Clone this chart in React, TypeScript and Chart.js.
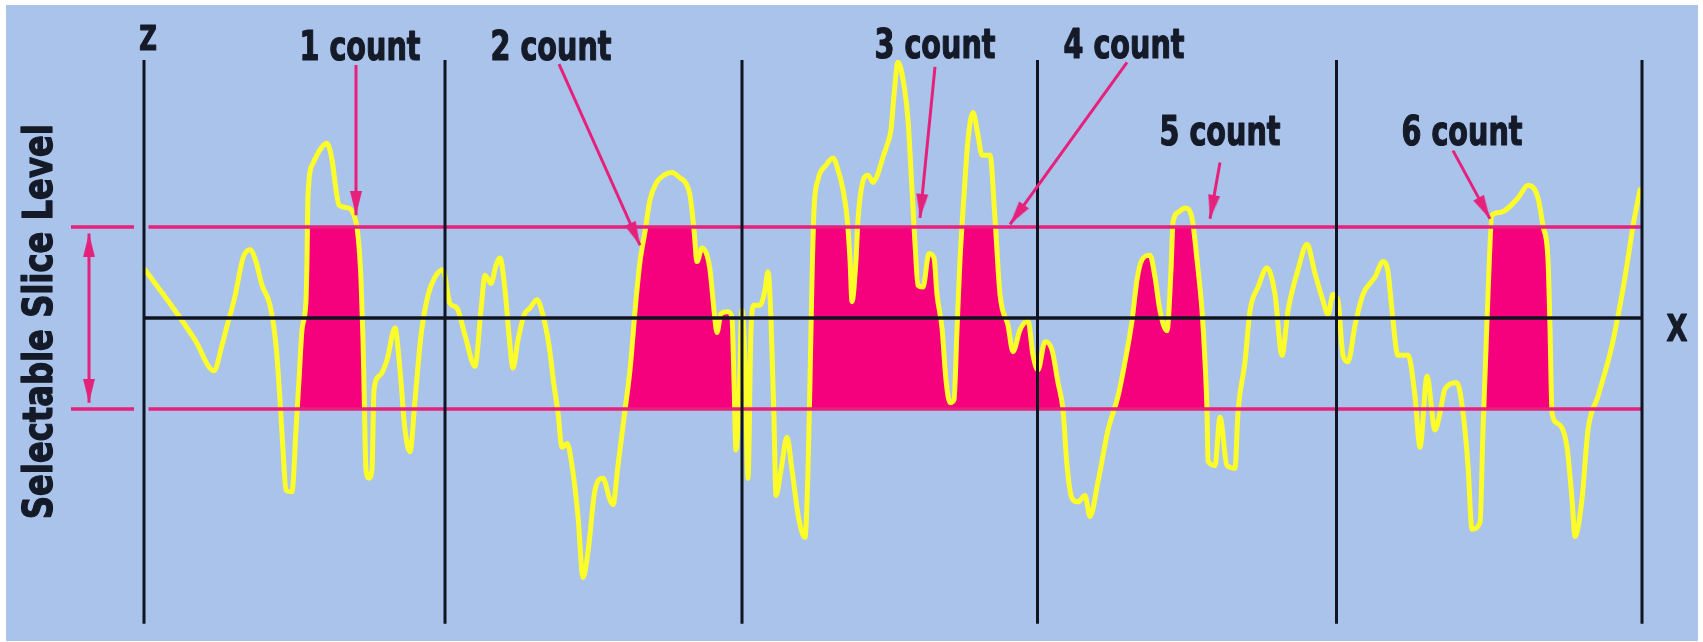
import React, { useEffect, useRef } from 'react';
import { Chart, registerables } from 'chart.js';

Chart.register(...registerables);

// Surface profile along the trace: position (x) and height relative to the mean line (y)
const profileX = [
  1, 26, 51, 70, 78, 82, 91, 99, 106, 112,
  118, 126, 132, 136, 139, 142, 148, 152, 155, 158,
  162, 163, 164, 169, 176, 183, 188, 192, 195, 204,
  210, 214, 217, 219, 220, 222, 225, 228, 230, 236,
  243, 251, 256, 261, 266, 271, 277, 284, 291, 299,
  306, 313, 321, 331, 337, 341, 347, 352, 356, 361,
  365, 369, 374, 380, 386, 393, 399, 405, 410, 414,
  418, 423, 428, 434, 439, 444, 451, 459, 466, 469,
  474, 481, 486, 492, 496, 501, 506, 512, 520, 528,
  536, 542, 546, 550, 553, 558, 563, 566, 570, 573,
  577, 584, 588, 590, 592, 595, 598, 601, 604, 607,
  610, 616, 621, 624, 627, 630, 632, 637, 643, 648,
  655, 661, 664, 666, 668, 670, 674, 682, 689, 694,
  699, 703, 706, 708, 712, 714, 718, 724, 729, 733,
  739, 743, 747, 750, 754, 760, 764, 768, 771, 774,
  779, 785, 790, 793, 798, 802, 806, 810, 813, 816,
  820, 824, 829, 834, 838, 846, 851, 856, 864, 869,
  876, 884, 889, 894, 901, 908, 914, 919, 923, 928,
  934, 941, 946, 954, 964, 974, 981, 988, 993, 998,
  1006, 1011, 1016, 1023, 1027, 1029, 1034, 1041, 1048, 1053,
  1058, 1061, 1063, 1064, 1071, 1076, 1083, 1091, 1094, 1101,
  1106, 1114, 1123, 1131, 1138, 1144, 1154, 1163, 1171, 1179,
  1184, 1189, 1194, 1199, 1204, 1211, 1219, 1231, 1239, 1244,
  1248, 1254, 1264, 1271, 1276, 1283, 1291, 1296, 1301, 1313,
  1319, 1324, 1328, 1336, 1339, 1344, 1348, 1356, 1374, 1384,
  1394, 1399, 1404, 1406, 1408, 1414, 1423, 1428, 1431, 1438,
  1444, 1454, 1468, 1481, 1489, 1496,
];

const profileY = [
  5.3, 1.6, -2.4, -5.8, -3.0, -1.3, 2.4, 6.6, 7.5, 6.2,
  3.6, 1.4, -3.0, -9.0, -14.5, -18.9, -19.1, -12.3, -6.8, -1.3,
  2.0, 6.4, 13.5, 17.0, 18.5, 19.2, 17.4, 14.1, 12.4, 12.1,
  11.3, 9.1, 4.2, -2.4, -7.4, -16.7, -17.6, -16.7, -7.9, -6.3,
  -4.6, -1.1, -5.7, -12.3, -14.7, -9.0, -1.9, 2.5, 4.5, 5.3,
  1.6, 1.1, -1.9, -5.3, 0.9, 4.7, 3.8, 5.8, 6.6, 3.1,
  -1.9, -5.5, -2.4, 0.3, 1.1, 2.0, 0.3, -3.0, -7.4, -10.4,
  -14.2, -13.8, -16.2, -21.8, -28.5, -25.7, -18.9, -17.6, -20.0, -20.5,
  -16.2, -10.1, -5.7, 2.0, 6.2, 9.5, 13.0, 14.8, 15.7, 16.0,
  15.4, 14.8, 13.5, 9.7, 6.2, 7.7, 6.9, 5.3, 0.9, -1.6,
  0.5, 0.7, 0.0, -6.8, -14.5, -9.0, 0.9, -4.6, -17.6, -1.3,
  1.4, 1.4, 3.1, 5.1, -0.2, -11.2, -19.5, -16.7, -13.1, -16.7,
  -22.2, -24.1, -16.7, -6.8, 4.2, 11.9, 15.2, 16.8, 17.6, 16.3,
  14.1, 11.1, 6.4, 1.8, 6.4, 10.8, 14.6, 15.7, 14.9, 15.6,
  17.7, 19.0, 20.7, 24.5, 28.1, 25.6, 21.8, 14.1, 8.2, 3.6,
  3.4, 7.1, 6.6, 2.6, -1.1, -6.8, -9.3, -9.0, -1.3, 6.4,
  13.5, 19.6, 22.6, 20.1, 17.9, 17.9, 10.9, 2.6, -0.8, -3.7,
  -1.3, -0.3, -4.1, -5.7, -2.6, -3.5, -7.1, -10.1, -16.2, -19.8,
  -20.2, -19.5, -21.8, -18.0, -12.3, -8.6, -4.8, -0.3, 4.2, 6.4,
  6.9, 4.5, 0.8, -1.4, 5.3, 10.5, 11.6, 12.1, 11.0, 6.4,
  0.8, -4.8, -10.1, -15.7, -16.2, -10.9, -16.2, -16.5, -10.4, -4.8,
  0.8, 3.4, 5.5, 2.6, -4.1, 0.8, 5.3, 8.1, 4.9, 1.9,
  0.4, 2.6, 1.9, -4.1, -4.8, -0.8, 2.6, 4.5, 6.2, 5.1,
  0.8, -4.1, -4.1, -8.6, -14.2, -6.4, -12.3, -10.4, -7.8, -7.1,
  -10.4, -16.2, -23.2, -22.5, -12.3, 2.6, 11.3, 11.6, 13.2, 14.6,
  13.2, 10.1, 6.4, -1.1, -10.4, -11.6, -14.2, -19.9, -24.0, -19.9,
  -12.3, -8.6, -3.0, 4.5, 10.1, 14.1,
];

// Upper and lower slice levels
const sliceLevels = [10, -10];
const upperSlice = 10;
const lowerSlice = -10;

// Section boundaries along the trace (vertical rules)
const sectionX = [0, 301, 598, 893.5, 1192.5, 1498];
const sectionTop = 28.35;
const sectionBottom = -33.6;

// Stretches of the trace where a peak crosses both slice levels
const countRangeStart = [148, 474, 661, 964, 1339];
const countRangeEnd = [222, 592, 923, 1064, 1414];

// Peak count callouts
const countLabels = ['1 count', '2 count', '3 count', '4 count', '5 count', '6 count'];
const labelX = [216, 407, 791, 980, 1076, 1318];
const labelY = [28.4, 28.4, 28.6, 28.6, 19.0, 19.0];
const arrowFromX = [212, 415, 791, 983, 1076, 1309];
const arrowFromY = [27.8, 27.9, 27.6, 28.1, 17.1, 18.4];
const arrowToX = [212, 496, 776, 866, 1066, 1346];
const arrowToY = [11.3, 8.0, 11.0, 10.3, 10.9, 10.9];

// Slice-level span marker and its stubs on the left
const levelArrowX = -55;
const levelArrowTop = 9.3;
const levelArrowBottom = -9.3;
const levelStubX = [-73, -10];
const levelLineX = [4.5, 1498];

// Axis names
const zAxisName = 'Z';
const zAxisPos = [4, 29.5];
const xAxisName = 'X';
const xAxisPos = [1533, -2.5];
const levelName = 'Selectable Slice Level';
const levelNamePos = [-92, -0.4];

// Value window for the whole drawing surface
const X_MIN = -144;
const X_MAX = 1559;
const Y_MIN = -35.6;
const Y_MAX = 34.95;

const BG_BLUE = '#aac3eb';
const FILL_PINK = '#f5007d';
const LINE_PINK = '#e5217b';
const YELLOW = '#fcfc2a';
const INK = '#0f1420';
const TEXT = '#141a28';
const FONT_FAMILY = '"Liberation Sans Narrow", "DejaVu Sans Condensed", "Liberation Sans", sans-serif';
const LABEL_SIZE = 40;
const LABEL_WIDTH = 121; // printed width of a "n count" callout
const LEVEL_NAME_LENGTH = 395;

function makeArrowHead(color: string): HTMLCanvasElement {
  const len = 24;
  const half = 6;
  const c = document.createElement('canvas');
  c.width = half * 2 + 2;
  c.height = len * 2;
  const g = c.getContext('2d')!;
  g.fillStyle = color;
  g.beginPath();
  g.moveTo(c.width / 2, len);
  g.lineTo(c.width / 2 + half, len * 2);
  g.lineTo(c.width / 2 - half, len * 2);
  g.closePath();
  g.fill();
  return c;
}

// Rotate the arrow head so it points away from the other end of its shaft
function headRotation(ctx: any): number {
  const chart = ctx.chart;
  const data = chart.data.datasets[ctx.datasetIndex].data as { x: number; y: number }[];
  const i = ctx.dataIndex;
  const p = data[i];
  const o = data[1 - i];
  if (!p || !o) return 0;
  const xs = chart.scales.x;
  const ys = chart.scales.y;
  const dx = xs.getPixelForValue(p.x) - xs.getPixelForValue(o.x);
  const dy = ys.getPixelForValue(p.y) - ys.getPixelForValue(o.y);
  return (Math.atan2(dx, -dy) * 180) / Math.PI;
}

const backdrop = {
  id: 'backdrop',
  beforeDraw(chart: any) {
    const { ctx, width, height } = chart;
    ctx.save();
    ctx.fillStyle = '#ffffff';
    ctx.fillRect(0, 0, width, height);
    ctx.fillStyle = BG_BLUE;
    ctx.fillRect(6, 5, width - 11, height - 6);
    ctx.restore();
  },
};

// Condensed bold lettering: squeeze the bold face horizontally to the printed width
function drawSqueezed(ctx: CanvasRenderingContext2D, text: string, x: number, y: number, squeeze: number, angle = 0) {
  ctx.save();
  ctx.translate(x, y);
  if (angle) ctx.rotate(angle);
  ctx.scale(squeeze, 1);
  ctx.fillText(text, 0, 0);
  ctx.strokeText(text, 0, 0);
  ctx.restore();
}

const captions = {
  id: 'captions',
  afterDatasetsDraw(chart: any) {
    const ctx: CanvasRenderingContext2D = chart.ctx;
    const xs = chart.scales.x;
    const ys = chart.scales.y;
    ctx.save();
    ctx.fillStyle = TEXT;
    ctx.strokeStyle = TEXT;
    ctx.lineWidth = 1.2;
    ctx.lineJoin = 'round';
    ctx.textAlign = 'center';
    ctx.textBaseline = 'alphabetic';
    ctx.font = `bold ${LABEL_SIZE}px ${FONT_FAMILY}`;
    const squeeze = LABEL_WIDTH / ctx.measureText(countLabels[0]).width;
    countLabels.forEach((t, i) => {
      drawSqueezed(ctx, t, xs.getPixelForValue(labelX[i]), ys.getPixelForValue(labelY[i]), squeeze);
    });
    ctx.font = `bold 34px ${FONT_FAMILY}`;
    drawSqueezed(ctx, zAxisName, xs.getPixelForValue(zAxisPos[0]), ys.getPixelForValue(zAxisPos[1]), squeeze);
    ctx.font = `bold 38px ${FONT_FAMILY}`;
    drawSqueezed(ctx, xAxisName, xs.getPixelForValue(xAxisPos[0]), ys.getPixelForValue(xAxisPos[1]), squeeze);
    ctx.font = `bold ${LABEL_SIZE}px ${FONT_FAMILY}`;
    const levelSqueeze = LEVEL_NAME_LENGTH / ctx.measureText(levelName).width;
    drawSqueezed(
      ctx,
      levelName,
      xs.getPixelForValue(levelNamePos[0]),
      ys.getPixelForValue(levelNamePos[1]),
      levelSqueeze,
      -Math.PI / 2,
    );
    ctx.restore();
  },
};

function buildDatasets(head: HTMLCanvasElement) {
  const datasets: any[] = [];

  // Callout arrows
  arrowFromX.forEach((fx, i) => {
    datasets.push({
      data: [
        { x: fx, y: arrowFromY[i] },
        { x: arrowToX[i], y: arrowToY[i] },
      ],
      borderColor: LINE_PINK,
      borderWidth: 3,
      pointRadius: [0, 40],
      pointStyle: head,
      rotation: headRotation,
      pointBorderWidth: 0,
      order: 0,
    });
  });
  datasets.push({
    data: [
      { x: levelArrowX, y: levelArrowTop },
      { x: levelArrowX, y: levelArrowBottom },
    ],
    borderColor: LINE_PINK,
    borderWidth: 3,
    pointRadius: [40, 40],
    pointStyle: head,
    rotation: headRotation,
    pointBorderWidth: 0,
    order: 0,
  });

  // Mean line and section rules
  datasets.push({
    data: [
      { x: sectionX[0], y: 0 },
      { x: sectionX[sectionX.length - 1], y: 0 },
    ],
    borderColor: INK,
    borderWidth: 3.5,
    order: 1,
  });
  sectionX.forEach((sx) => {
    datasets.push({
      data: [
        { x: sx, y: sectionBottom },
        { x: sx, y: sectionTop },
      ],
      borderColor: INK,
      borderWidth: 3,
      order: 1,
    });
  });

  // Slice levels
  sliceLevels.forEach((level) => {
    [levelLineX, levelStubX].forEach((span) => {
      datasets.push({
        data: [
          { x: span[0], y: level },
          { x: span[1], y: level },
        ],
        borderColor: LINE_PINK,
        borderWidth: 3.5,
        order: 2,
      });
    });
  });

  // Profile trace
  datasets.push({
    data: profileX.map((x, i) => ({ x, y: profileY[i] })),
    borderColor: YELLOW,
    borderWidth: 5,
    borderJoinStyle: 'round',
    borderCapStyle: 'round',
    cubicInterpolationMode: 'monotone',
    order: 3,
  });

  // Counted material between the slice levels
  countRangeStart.forEach((a, k) => {
    const b = countRangeEnd[k];
    const data = profileX
      .map((x, i) => ({ x, y: Math.min(profileY[i], upperSlice) }))
      .filter((p) => p.x >= a && p.x <= b);
    datasets.push({
      data,
      borderColor: 'rgba(0,0,0,0)',
      borderWidth: 0,
      cubicInterpolationMode: 'monotone',
      fill: { target: { value: lowerSlice }, above: FILL_PINK, below: 'rgba(0,0,0,0)' },
      order: 4,
    });
  });

  return datasets;
}

export default function App() {
  const ref = useRef<HTMLCanvasElement>(null);

  useEffect(() => {
    const canvas = ref.current;
    if (!canvas) return;
    const head = makeArrowHead(LINE_PINK);
    const chart = new Chart(canvas, {
      type: 'line',
      data: { datasets: buildDatasets(head) },
      options: {
        animation: false,
        responsive: false,
        events: [],
        layout: { padding: 0, autoPadding: false },
        elements: {
          point: { radius: 0, hoverRadius: 0 },
          line: { tension: 0 },
        },
        plugins: {
          legend: { display: false },
          tooltip: { enabled: false },
        },
        scales: {
          x: { type: 'linear', min: X_MIN, max: X_MAX, display: false },
          y: { type: 'linear', min: Y_MIN, max: Y_MAX, display: false },
        },
      },
      plugins: [backdrop, captions],
    } as any);
    return () => chart.destroy();
  }, []);

  return (
    <div style={{ position: 'absolute', left: 0, top: 0, width: 1703, height: 642 }}>
      <canvas ref={ref} width={1703} height={642} style={{ display: 'block' }} />
    </div>
  );
}
